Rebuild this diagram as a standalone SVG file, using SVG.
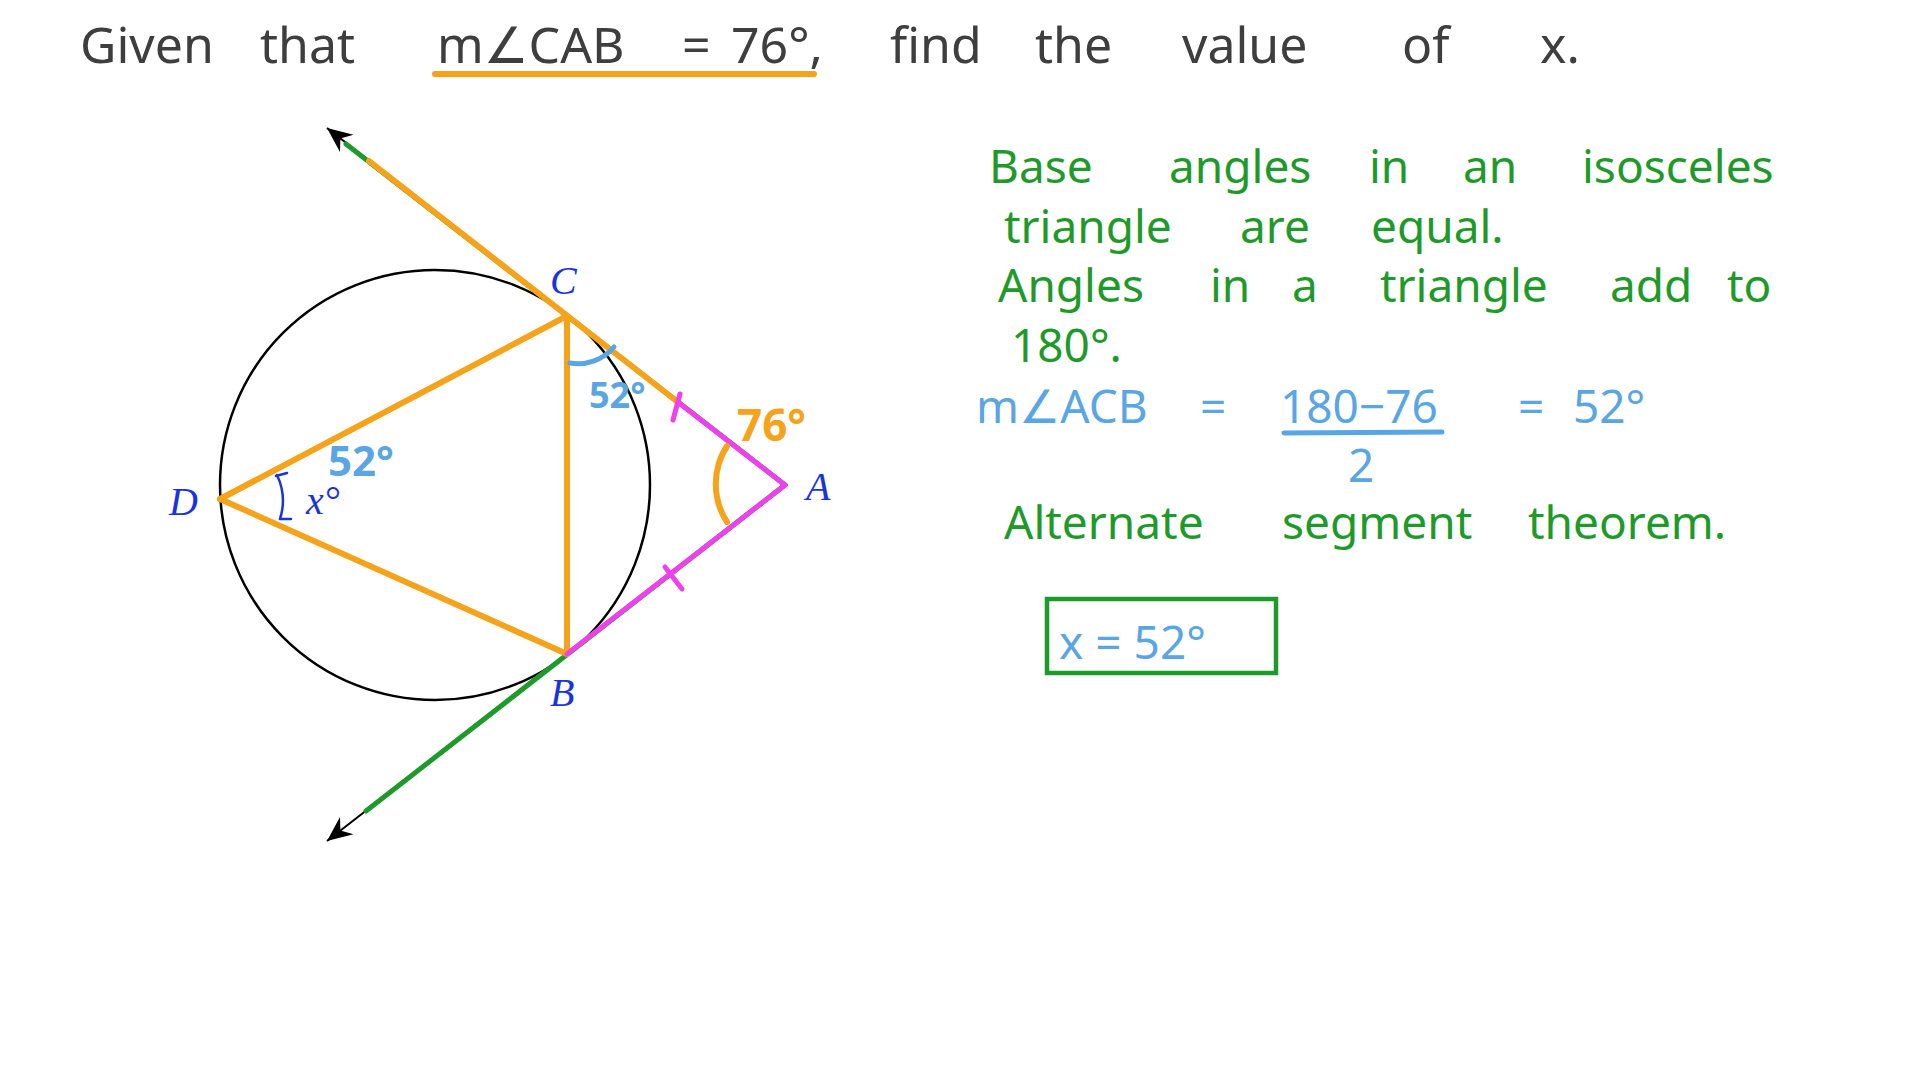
<svg xmlns="http://www.w3.org/2000/svg" width="1920" height="1080" viewBox="0 0 1920 1080">
<style>
.hand{font-family:"Noto Sans","DejaVu Sans",sans-serif;}
.title{fill:#3e3e3e;font-size:50px;}
.green{fill:#1e9a2a;font-size:46px;}
.blue{fill:#5aa6e4;font-size:46px;}
.lbl{font-family:"Liberation Serif","DejaVu Serif",serif;font-style:italic;fill:#1a33e0;font-size:40px;}
.or{stroke:#f5a31a;stroke-width:6;fill:none;stroke-linecap:round;}
.mg{stroke:#f040ee;stroke-width:5;fill:none;stroke-linecap:round;}
.gr{stroke:#1e9a2a;stroke-width:5;fill:none;stroke-linecap:round;}
.bl{stroke:#5aa6e4;stroke-width:5;fill:none;stroke-linecap:round;}
</style>
<defs>
<marker id="arr" viewBox="-26 -12 28 24" markerWidth="28" markerHeight="24" refX="0" refY="0" orient="auto" markerUnits="userSpaceOnUse">
<path d="M0,0 L-25,-11 L-17,0 L-25,11 Z" fill="#000"/>
</marker>
</defs>
<rect width="1920" height="1080" fill="#fff"/>

<g id="title">
<text class="hand title" y="63"><tspan x="80">Given</tspan><tspan x="260">that</tspan><tspan x="437">m∠CAB</tspan><tspan x="682">=</tspan><tspan x="731">76°,</tspan><tspan x="890">find</tspan><tspan x="1035">the</tspan><tspan x="1182">value</tspan><tspan x="1402">of</tspan><tspan x="1540">x.</tspan></text>
<line x1="435" y1="74" x2="814" y2="74" stroke="#f5a31a" stroke-width="6" stroke-linecap="round"/>
</g>

<g id="circle">
<circle cx="435" cy="485" r="215" fill="none" stroke="#000" stroke-width="2.5"/>
</g>

<g id="connectors">
<line x1="785" y1="485" x2="327" y2="128" stroke="#000" stroke-width="2" marker-end="url(#arr)"/>
<line x1="785" y1="485" x2="327" y2="841" stroke="#000" stroke-width="2" marker-end="url(#arr)"/>
<line class="gr" x1="346" y1="144" x2="785" y2="485"/>
<line class="gr" x1="366" y1="811" x2="785" y2="485"/>
<line stroke="#f040ee" stroke-width="2" x1="565" y1="316" x2="565" y2="654"/>
<line class="or" x1="369" y1="161" x2="679" y2="403"/>
<line class="or" x1="220" y1="499" x2="567" y2="316"/>
<line class="or" x1="220" y1="499" x2="567" y2="654"/>
<line class="or" x1="567" y1="316" x2="567" y2="654"/>
<line class="mg" x1="679" y1="403" x2="785" y2="485"/>
<line class="mg" x1="567" y1="654" x2="785" y2="485"/>
<line class="mg" x1="680" y1="394" x2="673" y2="420"/>
<line class="mg" x1="665" y1="567" x2="682" y2="589"/>
<path class="or" d="M727,446 A70,70 0 0 0 727,522"/>
<path class="bl" d="M570,363 A47,47 0 0 0 614,347"/>
<path d="M277,475 A60,60 0 0 1 280,519 M276,476 L287,473 M280,519 L291,519" fill="none" stroke="#1a33e0" stroke-width="2.5" stroke-linecap="round"/>
</g>

<g id="node-C"><text class="lbl" x="550" y="294">C</text></g>
<g id="node-A"><text class="lbl" x="806" y="500">A</text></g>
<g id="node-B"><text class="lbl" x="550" y="706">B</text></g>
<g id="node-D"><text class="lbl" x="169" y="515">D</text></g>
<g id="angle-labels">
<text class="lbl" x="306" y="514" font-size="32">x°</text>
<text class="hand" x="737" y="441" fill="#f5a31a" font-size="44" font-weight="bold">76°</text>
<text class="hand" x="589" y="408" fill="#5aa6e4" font-size="36" font-weight="bold">52°</text>
<text class="hand" x="328" y="476" fill="#5aa6e4" font-size="42" font-weight="bold">52°</text>
</g>

<g id="reasons">
<text class="hand green" y="183"><tspan x="989">Base</tspan><tspan x="1169">angles</tspan><tspan x="1369">in</tspan><tspan x="1463">an</tspan><tspan x="1582">isosceles</tspan></text>
<text class="hand green" y="243"><tspan x="1004">triangle</tspan><tspan x="1240">are</tspan><tspan x="1371">equal.</tspan></text>
<text class="hand green" y="302"><tspan x="998">Angles</tspan><tspan x="1210">in</tspan><tspan x="1292">a</tspan><tspan x="1380">triangle</tspan><tspan x="1610">add</tspan><tspan x="1727">to</tspan></text>
<text class="hand green" x="1011" y="362">180°.</text>
<text class="hand blue" y="423"><tspan x="976">m∠ACB</tspan><tspan x="1200">=</tspan><tspan x="1280">180−76</tspan><tspan x="1518">=</tspan><tspan x="1573">52°</tspan></text>
<line class="bl" x1="1284" y1="433" x2="1442" y2="432"/>
<text class="hand blue" x="1348" y="482" font-size="40">2</text>
<text class="hand green" y="539"><tspan x="1004">Alternate</tspan><tspan x="1282">segment</tspan><tspan x="1528">theorem.</tspan></text>
</g>

<g id="answer">
<rect x="1047" y="599" width="229" height="74" fill="none" stroke="#1e9a2a" stroke-width="4.5"/>
<text class="hand blue" x="1059" y="659" font-size="52">x = 52°</text>
</g>
</svg>
